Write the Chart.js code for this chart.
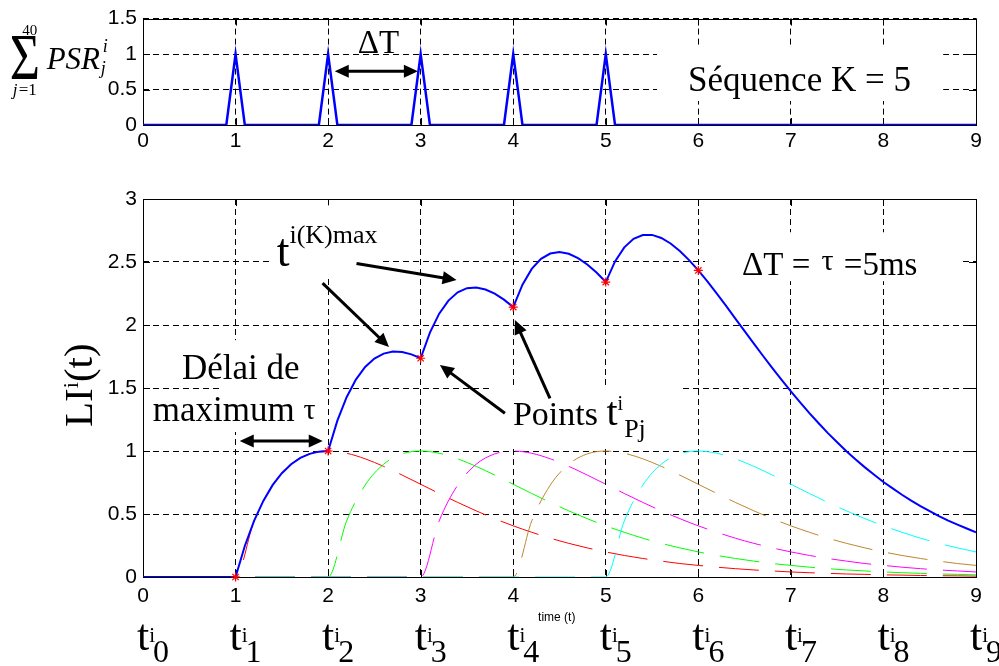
<!DOCTYPE html>
<html>
<head>
<meta charset="utf-8">
<script src="https://cdn.jsdelivr.net/npm/chart.js@4.4.1/dist/chart.umd.min.js"></script>
<style>
  html, body { margin: 0; padding: 0; background: #fff; }
  #page { position: relative; width: 999px; height: 666px; overflow: hidden; }
  .panel { position: absolute; left: 0; width: 999px; }
</style>
</head>
<body>
<div id="page">
  <div class="panel" style="top:0;height:160px"><canvas id="pulseChart"></canvas></div>
  <div class="panel" style="top:160px;height:506px"><canvas id="liChart"></canvas></div>
</div>
<script>
// ---- data ----
const pulseTimes  = [0, 0.9, 1, 1.1, 1.9, 2, 2.1, 2.9, 3, 3.1, 3.9, 4, 4.1, 4.9, 5, 5.1, 9];
const pulseValues = [0, 0,   1, 0,   0,   1, 0,   0,   1, 0,   0,   1, 0,   0,   1, 0,   0];

// summed response LI(t), read every 0.1
const liTimes = [0, 0.1, 0.2, 0.3, 0.4, 0.5, 0.6, 0.7, 0.8, 0.9,
  1, 1.1, 1.2, 1.3, 1.4, 1.5, 1.6, 1.7, 1.8, 1.9,
  2, 2.1, 2.2, 2.3, 2.4, 2.5, 2.6, 2.7, 2.8, 2.9,
  3, 3.1, 3.2, 3.3, 3.4, 3.5, 3.6, 3.7, 3.8, 3.9,
  4, 4.1, 4.2, 4.3, 4.4, 4.5, 4.6, 4.7, 4.8, 4.9,
  5, 5.1, 5.2, 5.3, 5.4, 5.5, 5.6, 5.7, 5.8, 5.9,
  6, 6.1, 6.2, 6.3, 6.4, 6.5, 6.6, 6.7, 6.8, 6.9,
  7, 7.1, 7.2, 7.3, 7.4, 7.5, 7.6, 7.7, 7.8, 7.9,
  8, 8.1, 8.2, 8.3, 8.4, 8.5, 8.6, 8.7, 8.8, 8.9, 9];
const liTotal = [0, 0, 0, 0, 0, 0, 0, 0, 0, 0,
  0, 0.246, 0.445, 0.604, 0.729, 0.824, 0.895, 0.945, 0.977, 0.995,
  1.000, 1.241, 1.427, 1.567, 1.667, 1.734, 1.773, 1.789, 1.786, 1.767,
  1.736, 1.940, 2.090, 2.194, 2.259, 2.292, 2.298, 2.282, 2.249, 2.201,
  2.142, 2.320, 2.445, 2.525, 2.567, 2.579, 2.565, 2.531, 2.480, 2.416,
  2.341, 2.505, 2.616, 2.684, 2.714, 2.715, 2.691, 2.647, 2.587, 2.515,
  2.433, 2.344, 2.249, 2.152, 2.051, 1.952, 1.852, 1.754, 1.658, 1.564,
  1.473, 1.386, 1.301, 1.220, 1.142, 1.069, 0.998, 0.932, 0.870, 0.811,
  0.754, 0.703, 0.653, 0.606, 0.562, 0.522, 0.483, 0.448, 0.416, 0.385, 0.355];

// individual responses (dashed), read every 0.2
const timeSteps = [0, 0.2, 0.4, 0.6, 0.8, 1, 1.2, 1.4, 1.6, 1.8, 2, 2.2, 2.4, 2.6, 2.8, 3,
  3.2, 3.4, 3.6, 3.8, 4, 4.2, 4.4, 4.6, 4.8, 5, 5.2, 5.4, 5.6, 5.8, 6, 6.2, 6.4, 6.6, 6.8, 7,
  7.2, 7.4, 7.6, 7.8, 8, 8.2, 8.4, 8.6, 8.8, 9];
const psr1 = [0, 0, 0, 0, 0, 0,
  0.445, 0.729, 0.895, 0.977, 1.000, 0.982, 0.938, 0.878, 0.809, 0.736,
  0.663, 0.592, 0.525, 0.463, 0.406, 0.355, 0.308, 0.267, 0.231, 0.199,
  0.171, 0.147, 0.126, 0.107, 0.092, 0.078, 0.066, 0.056, 0.048, 0.040,
  0.034, 0.029, 0.024, 0.021, 0.017, 0.015, 0.012, 0.010, 0.009, 0.007];
const psr2 = [0, 0, 0, 0, 0, 0, 0, 0, 0, 0, 0,
  0.445, 0.729, 0.895, 0.977, 1.000, 0.982, 0.938, 0.878, 0.809, 0.736,
  0.663, 0.592, 0.525, 0.463, 0.406, 0.355, 0.308, 0.267, 0.231, 0.199,
  0.171, 0.147, 0.126, 0.107, 0.092, 0.078, 0.066, 0.056, 0.048, 0.040,
  0.034, 0.029, 0.024, 0.021, 0.017];
const psr3 = [0, 0, 0, 0, 0, 0, 0, 0, 0, 0, 0, 0, 0, 0, 0, 0,
  0.445, 0.729, 0.895, 0.977, 1.000, 0.982, 0.938, 0.878, 0.809, 0.736,
  0.663, 0.592, 0.525, 0.463, 0.406, 0.355, 0.308, 0.267, 0.231, 0.199,
  0.171, 0.147, 0.126, 0.107, 0.092, 0.078, 0.066, 0.056, 0.048, 0.040];
const psr4 = [0, 0, 0, 0, 0, 0, 0, 0, 0, 0, 0, 0, 0, 0, 0, 0, 0, 0, 0, 0, 0,
  0.445, 0.729, 0.895, 0.977, 1.000, 0.982, 0.938, 0.878, 0.809, 0.736,
  0.663, 0.592, 0.525, 0.463, 0.406, 0.355, 0.308, 0.267, 0.231, 0.199,
  0.171, 0.147, 0.126, 0.107, 0.092];
const psr5 = [0, 0, 0, 0, 0, 0, 0, 0, 0, 0, 0, 0, 0, 0, 0, 0, 0, 0, 0, 0, 0, 0, 0, 0, 0, 0,
  0.445, 0.729, 0.895, 0.977, 1.000, 0.982, 0.938, 0.878, 0.809, 0.736,
  0.663, 0.592, 0.525, 0.463, 0.406, 0.355, 0.308, 0.267, 0.231, 0.199];

// red star points t^i_Pj
const peakTimes  = [1, 2, 3, 4, 5, 6];
const peakValues = [0, 1, 1.736, 2.142, 2.341, 2.433];

// tick labels under the lower axis: t^i_0 ... t^i_9
const tSubLabels = ['0', '1', '2', '3', '4', '5', '6', '7', '8', '9'];

// ---- helpers ----
const SERIF = '"Liberation Serif", "Times New Roman", serif';
const SANS = '"Liberation Sans", Arial, sans-serif';
const serif = (size, style) => (style || '') + ' ' + size + 'px ' + SERIF;

const pts = (xs, ys) => xs.map((x, i) => ({ x: x, y: ys[i] }));

function drawRich(ctx, x, y, segs, align) {
    let w = 0;
    segs.forEach(s => {
        ctx.font = s.font;
        s.w = ctx.measureText(s.text).width;
        w += s.w + (s.dx || 0);
    });
    let cx = align === 'center' ? x - w / 2 : x;
    ctx.textAlign = 'left';
    ctx.textBaseline = 'alphabetic';
    ctx.fillStyle = '#000';
    segs.forEach(s => {
        cx += (s.dx || 0);
        ctx.font = s.font;
        ctx.fillText(s.text, cx, y + (s.dy || 0));
        cx += s.w;
    });
}

function drawArrow(ctx, x0, y0, x1, y1, both) {
    const a = Math.atan2(y1 - y0, x1 - x0);
    const L = 14, W = 6.5;
    const c = Math.cos(a), s = Math.sin(a);
    ctx.strokeStyle = '#000';
    ctx.fillStyle = '#000';
    ctx.lineWidth = 3;
    ctx.setLineDash([]);
    ctx.beginPath();
    ctx.moveTo(both ? x0 + c * L * 0.8 : x0, both ? y0 + s * L * 0.8 : y0);
    ctx.lineTo(x1 - c * L * 0.8, y1 - s * L * 0.8);
    ctx.stroke();
    const head = (hx, hy, hc, hs) => {
        ctx.beginPath();
        ctx.moveTo(hx, hy);
        ctx.lineTo(hx - L * hc + W * hs, hy - L * hs - W * hc);
        ctx.lineTo(hx - L * hc - W * hs, hy - L * hs + W * hc);
        ctx.closePath();
        ctx.fill();
    };
    head(x1, y1, c, s);
    if (both) head(x0, y0, -c, -s);
}

// boxes, frame, inner ticks, arrows and text placed in data units
function overlay(spec) {
    return {
        id: 'overlay',
        beforeDatasetsDraw(chart) {
            const { ctx, chartArea: a, scales: { x, y } } = chart;
            ctx.save();
            ctx.strokeStyle = '#000';
            ctx.lineWidth = 1;
            ctx.setLineDash([]);
            ctx.beginPath();
            x.ticks.forEach(t => {
                const px = Math.round(x.getPixelForValue(t.value)) + 0.5;
                ctx.moveTo(px, a.top); ctx.lineTo(px, a.top + 7);
                ctx.moveTo(px, a.bottom); ctx.lineTo(px, a.bottom - 7);
            });
            y.ticks.forEach(t => {
                const py = Math.round(y.getPixelForValue(t.value)) + 0.5;
                ctx.moveTo(a.left, py); ctx.lineTo(a.left + 7, py);
                ctx.moveTo(a.right, py); ctx.lineTo(a.right - 7, py);
            });
            ctx.stroke();
            ctx.fillStyle = '#fff';
            spec.boxes.forEach(b => {
                const x0 = x.getPixelForValue(b.x0), x1 = x.getPixelForValue(b.x1);
                const y0 = y.getPixelForValue(b.y0), y1 = y.getPixelForValue(b.y1);
                ctx.fillRect(x0, y0, x1 - x0, y1 - y0);
            });
            ctx.strokeRect(Math.round(a.left) + 0.5, Math.round(a.top) + 0.5,
                Math.round(a.right - a.left), Math.round(a.bottom - a.top));
            ctx.restore();
        },
        afterDatasetsDraw(chart) {
            const { ctx, scales: { x, y } } = chart;
            ctx.save();
            spec.arrows.forEach(r => drawArrow(ctx,
                x.getPixelForValue(r.x0), y.getPixelForValue(r.y0),
                x.getPixelForValue(r.x1), y.getPixelForValue(r.y1), r.both));
            spec.texts.forEach(t => {
                const px = x.getPixelForValue(t.x) + (t.dxPx || 0);
                const py = y.getPixelForValue(t.y);
                if (t.parts) {
                    t.parts.forEach(p => {
                        ctx.save();
                        ctx.translate(px + p.dx, py + p.dy);
                        if (p.vscale) ctx.scale(1, p.vscale);
                        ctx.font = p.font;
                        ctx.fillStyle = '#000';
                        ctx.textAlign = p.align || 'left';
                        ctx.textBaseline = 'alphabetic';
                        ctx.fillText(p.text, 0, 0);
                        ctx.restore();
                    });
                } else if (t.rotate) {
                    ctx.save();
                    ctx.translate(px, py);
                    ctx.rotate(-Math.PI / 2);
                    drawRich(ctx, 0, 0, t.segs, t.align);
                    ctx.restore();
                } else {
                    drawRich(ctx, px, py, t.segs, t.align);
                }
            });
            ctx.restore();
        }
    };
}

function axesFor(yMax, xHeight, xPad) {
    const tickFont = { family: SANS, size: 21 };
    return {
        x: {
            type: 'linear', min: 0, max: 9,
            ticks: { stepSize: 1, color: '#000', font: tickFont, padding: xPad, maxRotation: 0, autoSkip: false },
            grid: { color: '#000', lineWidth: 1, drawTicks: false },
            border: { display: false, dash: [6, 4] },
            afterFit: s => { s.height = xHeight; }
        },
        y: {
            type: 'linear', min: 0, max: yMax,
            ticks: { stepSize: 0.5, color: '#000', font: tickFont, padding: 6, callback: v => String(v) },
            grid: { color: '#000', lineWidth: 1, drawTicks: false },
            border: { display: false, dash: [6, 4] },
            afterFit: s => { s.width = 143; }
        }
    };
}

const baseOptions = (yMax, xHeight, xPad, top) => ({
    responsive: true,
    maintainAspectRatio: false,
    animation: false,
    events: [],
    layout: { padding: { top: top, right: 23, left: 0, bottom: 0 } },
    plugins: { legend: { display: false }, tooltip: { enabled: false } },
    elements: { point: { radius: 0 }, line: { tension: 0 } },
    scales: axesFor(yMax, xHeight, xPad)
});

// ---- top chart: input spikes ----
new Chart(document.getElementById('pulseChart'), {
    type: 'line',
    data: {
        datasets: [{
            data: pts(pulseTimes, pulseValues),
            borderColor: '#0000ff',
            borderWidth: 2.5,
            pointRadius: 0
        }]
    },
    options: baseOptions(1.5, 35, 4, 14),
    plugins: [overlay({
        boxes: [{ x0: 5.554, x1: 8.645, y0: 1.108, y1: 0.338 }],
        arrows: [{ x0: 2.072, y0: 0.757, x1: 2.970, y1: 0.757, both: true }],
        texts: [
            { x: 2.321, y: 1.014, segs: [{ text: 'ΔT', font: serif(33) }] },
            { x: 5.889, y: 0.473, segs: [{ text: 'Séquence K = 5', font: serif(35) }] },
            { x: -1.441, y: 0.649, parts: [
                { text: 'Σ', font: serif(52), dx: 0, dy: 0, vscale: 1.25 },
                { text: '40', font: serif(15), dx: 20, dy: -44, align: 'center' },
                { text: 'j', font: serif(17, 'italic'), dx: 3, dy: 16 },
                { text: '=1', font: serif(17), dx: 9, dy: 16 },
                { text: 'PSR', font: serif(31, 'italic'), dx: 37, dy: -10 },
                { text: 'i', font: serif(18, 'italic'), dx: 93, dy: -27 },
                { text: 'j', font: serif(18, 'italic'), dx: 91, dy: -5 }
            ] }
        ]
    })]
});

// ---- bottom chart: LI(t) ----
const dashed = (values, color) => ({
    data: pts(timeSteps, values),
    borderColor: color,
    borderWidth: 1,
    borderDash: [40, 16],
    cubicInterpolationMode: 'monotone',
    pointRadius: 0
});

const tLabelTexts = tSubLabels.map((sub, k) => ({
    x: k, y: -0.576, dxPx: -6,
    segs: [
        { text: 't', font: serif(44) },
        { text: 'i', font: serif(21), dy: -8 },
        { text: sub, font: serif(32), dy: 12, dx: -2 }
    ]
}));

new Chart(document.getElementById('liChart'), {
    type: 'line',
    data: {
        datasets: [
            {
                data: pts(peakTimes, peakValues),
                showLine: false,
                pointStyle: 'star',
                pointRadius: 4.5,
                pointBorderColor: '#ff0000',
                pointBorderWidth: 1.2,
                clip: false
            },
            {
                data: pts(liTimes, liTotal),
                borderColor: '#0000ff',
                borderWidth: 2,
                pointRadius: 0
            },
            dashed(psr5, '#00ffff'),
            dashed(psr4, 'rgb(191,134,46)'),
            dashed(psr3, '#ff00ff'),
            dashed(psr2, '#00ff00'),
            dashed(psr1, '#ff0000')
        ]
    },
    options: baseOptions(3, 89, 7, 39),
    plugins: [overlay({
        boxes: [
            { x0: 1.402, x1: 2.591, y0: 2.950, y1: 2.372 },
            { x0: 6.072, x1: 8.829, y0: 2.736, y1: 2.348 },
            { x0: 0.851, x1: 1.986, y0: 1.880, y1: 1.468 },
            { x0: 0.072, x1: 1.986, y0: 1.468, y1: 1.151 },
            { x0: 3.748, x1: 5.802, y0: 1.524, y1: 1.017 }
        ],
        arrows: [
            { x0: 1.940, y0: 2.332, x1: 2.658, y1: 1.825 },
            { x0: 2.307, y0: 2.488, x1: 3.388, y1: 2.357 },
            { x0: 3.910, y0: 1.300, x1: 3.208, y1: 1.683 },
            { x0: 4.397, y0: 1.418, x1: 4.018, y1: 2.039 },
            { x0: 1.045, y0: 1.080, x1: 1.942, y1: 1.080, both: true }
        ],
        texts: [
            { x: 1.444, y: 2.467, segs: [
                { text: 't', font: serif(46) },
                { text: 'i(K)max', font: serif(26), dy: -23 }
            ] },
            { x: 6.472, y: 2.395, segs: [
                { text: 'ΔT = ', font: serif(33) },
                { text: 'τ', font: serif(30), dy: -5, dx: 3 },
                { text: ' =5ms', font: serif(33), dx: 2 }
            ] },
            { x: 1.056, y: 1.572, align: 'center', segs: [{ text: 'Délai de', font: serif(35) }] },
            { x: 0.105, y: 1.239, segs: [
                { text: 'maximum ', font: serif(35) },
                { text: 'τ', font: serif(30), dy: -2 }
            ] },
            { x: 3.997, y: 1.207, segs: [
                { text: 'Points ', font: serif(34) },
                { text: 't', font: serif(40) },
                { text: 'i', font: serif(20), dy: -15 },
                { text: 'Pj', font: serif(26), dy: 12, dx: 1 }
            ] },
            { x: -0.555, y: 1.191, rotate: true, segs: [
                { text: 'LI', font: serif(41) },
                { text: 'i', font: serif(22), dy: -14 },
                { text: '(t)', font: serif(41) }
            ] },
            { x: 4.47, y: -0.346, align: 'center', segs: [{ text: 'time (t)', font: '12px ' + SANS }] }
        ].concat(tLabelTexts)
    })]
});
</script>
</body>
</html>
